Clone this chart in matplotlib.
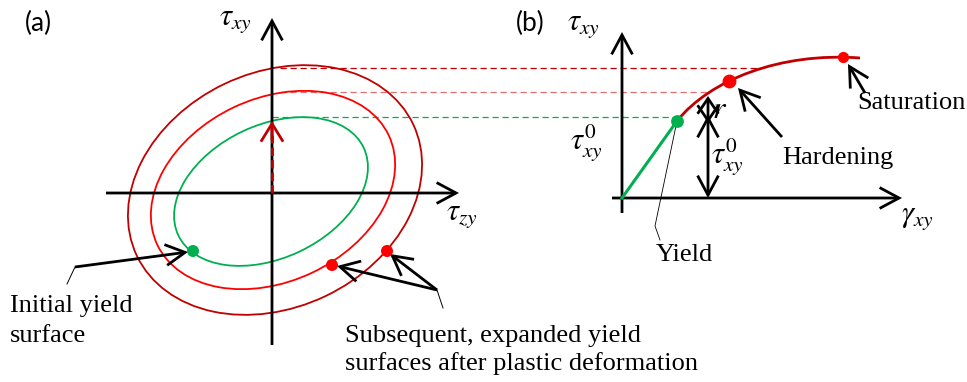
import matplotlib
matplotlib.use("Agg")
import matplotlib.pyplot as plt
from matplotlib.patches import Ellipse, FancyArrowPatch, PathPatch
from matplotlib.path import Path

plt.rcParams["font.family"] = ["Liberation Serif", "DejaVu Serif"]
plt.rcParams["mathtext.fontset"] = "stix"

# ---- geometry (figure pixels, y grows downwards) ----
DARK_RED = "#C00000"
RED = "#FF0000"
GREEN = "#00B050"
SALMON = "#E07070"

# yield surfaces in (a): centre, full width, full height, tilt
surf_names = ["initial", "second", "outer"]
surf_centre = [(271, 191.5), (273, 190), (275, 190)]
surf_width = [205, 256, 306]
surf_height = [133, 183, 235]
surf_angle = [-25.3, -25.3, -25.5]
surf_color = [GREEN, RED, DARK_RED]

# state points on the surfaces
surf_dots_x = [193, 332, 387]
surf_dots_y = [251, 265, 251]
surf_dots_c = [GREEN, RED, RED]

# levels carried from (a) to (b): y, x-start, x-end, colour
level_y = [68, 92, 117]
level_x0 = [280, 280, 272]
level_x1 = [757, 710, 677]
level_c = [DARK_RED, SALMON, GREEN]

# stress-strain curve in (b)
origin_b = (622, 198)
yield_pt = (677, 121)
hard_pt = (729, 81)
sat_pt = (843, 57)
curve_ctrl = [(677, 121), (710, 80), (780, 52), (860, 58)]

fig = plt.figure(figsize=(9.67, 3.82), dpi=100)
ax = fig.add_axes([0, 0, 1, 1])
ax.set_xlim(0, 967)
ax.set_ylim(382, 0)
ax.axis("off")


def arrow(p0, p1, color="k", lw=2.0, style="->", hl=1.4, hw=0.75, ms=10, z=3):
    a = FancyArrowPatch(p0, p1, arrowstyle=f"{style},head_length={hl},head_width={hw}",
                        mutation_scale=ms, color=color, lw=lw, shrinkA=0, shrinkB=0,
                        capstyle="butt", joinstyle="miter", zorder=z)
    ax.add_patch(a)


# ---------------- panel (a) ----------------
for c, w, h, ang, col in zip(surf_centre, surf_width, surf_height, surf_angle, surf_color):
    ax.add_patch(Ellipse(c, w, h, angle=ang, fill=False, ec=col, lw=1.3, zorder=2))

arrow((106, 193), (459, 193))
arrow((272, 345), (272, 18))

# dashed hardening arrow along tau_xy
ax.plot([272, 272], [193, 135], color=DARK_RED, lw=2.0, ls=(0, (3, 1.5)), zorder=4)
arrow((272, 140), (272, 121), color=DARK_RED, lw=2.0, hl=1.3, hw=0.8, z=4)

for y, x0, x1, c in zip(level_y, level_x0, level_x1, level_c):
    ax.plot([x0, x1], [y, y], color=c, lw=0.9, ls=(0, (5, 3)), zorder=1)

ax.scatter(surf_dots_x, surf_dots_y, s=75, c=surf_dots_c, zorder=5, linewidths=0)

# callouts
arrow((75, 267), (188, 252))
ax.plot([75, 67], [267, 284], color="k", lw=0.7)
arrow((437, 290), (337, 266))
arrow((437, 290), (390, 254))
ax.plot([437, 443], [290, 308], color="k", lw=0.7)

serif = dict(family=["Liberation Serif"], fontsize=19, color="k")
ax.text(25, 23, "(a)", family=["Lato"], fontsize=19, ha="left", va="center")
ax.text(236, 20, r"$\tau_{xy}$", fontsize=22, ha="center", va="center")
ax.text(446, 215, r"$\tau_{zy}$", fontsize=22, ha="left", va="center")
ax.text(10, 312, "Initial yield", ha="left", va="baseline", **serif)
ax.text(10, 342, "surface", ha="left", va="baseline", **serif)
ax.text(345, 342, "Subsequent, expanded yield", ha="left", va="baseline", **serif)
ax.text(345, 370, "surfaces after plastic deformation", ha="left", va="baseline", **serif)

# ---------------- panel (b) ----------------
arrow((612, 198), (902, 198))
arrow((622, 213), (622, 32))

ax.plot([origin_b[0], yield_pt[0]], [origin_b[1], yield_pt[1]], color=GREEN, lw=2.2, zorder=3)
codes = [Path.MOVETO, Path.CURVE4, Path.CURVE4, Path.CURVE4]
ax.add_patch(PathPatch(Path(curve_ctrl, codes), fill=False, ec=DARK_RED, lw=2.0, zorder=3))

ax.scatter([yield_pt[0]], [yield_pt[1]], s=85, c=GREEN, zorder=5, linewidths=0)
ax.scatter([hard_pt[0]], [hard_pt[1]], s=100, c=RED, zorder=5, linewidths=0)
ax.scatter([sat_pt[0]], [sat_pt[1]], s=65, c=RED, marker="o", zorder=5, linewidths=0)

# tau0 and r extents
arrow((708, 198), (708, 115), style="<->")
arrow((708, 123), (708, 96), style="<->", hl=1.1)

arrow((782, 137), (738, 88))
arrow((865, 93), (848, 64))
ax.plot([yield_pt[0], 655, 660], [yield_pt[1], 226, 240], color="k", lw=0.6, zorder=2)

ax.text(516, 23, "(b)", family=["Lato"], fontsize=19, ha="left", va="center")
ax.text(584, 25, r"$\tau_{xy}$", fontsize=22, ha="center", va="center")
ax.text(901, 217, r"$\gamma_{xy}$", fontsize=22, ha="left", va="center")
ax.text(587, 143, r"$\tau_{xy}^{0}$", fontsize=22, ha="center", va="center")
ax.text(711, 157, r"$\tau_{xy}^{0}$", fontsize=22, ha="left", va="center")
ax.text(720, 110, r"$r$", fontsize=23, ha="center", va="center")
ax.text(857, 103, "Saturation", ha="left", va="center", **serif)
ax.text(782, 158, "Hardening", ha="left", va="center", **serif)
ax.text(684, 255, "Yield", ha="center", va="center", **serif)

fig.savefig("out.png", dpi=100, facecolor="white")
